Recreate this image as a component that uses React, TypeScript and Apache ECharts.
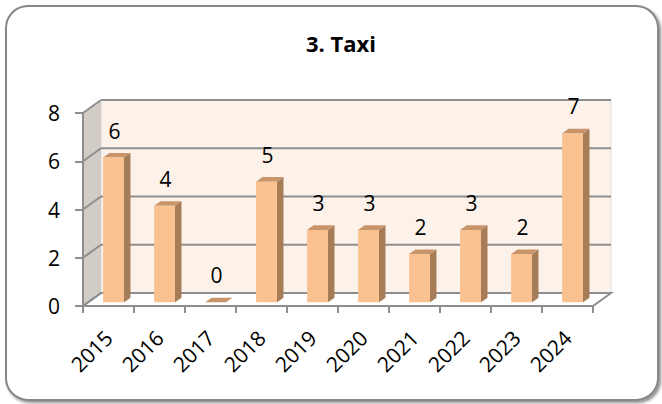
import React, { useEffect, useRef } from 'react';
import * as echarts from 'echarts';

const titleText = '3. Taxi';
const categories = ['2015', '2016', '2017', '2018', '2019', '2020', '2021', '2022', '2023', '2024'];
const values = [6, 4, 0, 5, 3, 3, 2, 3, 2, 7];
const yTicks = [0, 2, 4, 6, 8];

const DX = 18;
const DY = -13;
const FRONT = 0.28;
const DEPTH = 0.36;

export default function App() {
  const ref = useRef<HTMLDivElement>(null);
  useEffect(() => {
    const chart = echarts.init(ref.current!, null, { renderer: 'svg' });
    const font = '"Open Sans", "Noto Sans", sans-serif';
    const grey = '#8e8e8e';

    const walls = {
      type: 'custom',
      z: 1,
      silent: true,
      clip: false,
      data: [[0, 0]],
      encode: { x: 0, y: 1 },
      renderItem: (params: any, api: any) => {
        const cs = params.coordSys;
        const x0 = cs.x, y0 = cs.y, w = cs.width, h = cs.height;
        const yb = y0 + h;
        const children: any[] = [];
        children.push({
          type: 'rect',
          shape: { x: x0 + DX, y: y0 + DY, width: w, height: h },
          style: { fill: '#fdf2ea', stroke: '#dcdcdc', lineWidth: 1 },
        });
        children.push({
          type: 'polygon',
          shape: { points: [[x0, y0], [x0 + DX, y0 + DY], [x0 + DX, yb + DY], [x0, yb]] },
          style: { fill: '#d2ccc7', stroke: 'none' },
        });
        children.push({
          type: 'polygon',
          shape: { points: [[x0, yb], [x0 + DX, yb + DY], [x0 + w + DX, yb + DY], [x0 + w, yb]] },
          style: { fill: '#ffffff', stroke: grey, lineWidth: 2 },
        });
        for (const t of yTicks) {
          const p = api.coord([0, t]);
          const y = p[1];
          children.push({
            type: 'line',
            shape: { x1: x0 + DX, y1: y + DY, x2: x0 + w + DX, y2: y + DY },
            style: { stroke: grey, lineWidth: 2 },
          });
          children.push({
            type: 'line',
            shape: { x1: x0, y1: y, x2: x0 + DX, y2: y + DY },
            style: { stroke: grey, lineWidth: 2 },
          });
        }
        return { type: 'group', children };
      },
    };

    const bars = {
      type: 'custom',
      z: 3,
      clip: false,
      data: values.map((v, i) => [i, v]),
      encode: { x: 0, y: 1 },
      renderItem: (params: any, api: any) => {
        const i = api.value(0);
        const v = api.value(1);
        const base = api.coord([i, 0]);
        const top = api.coord([i, v]);
        const band = api.size([1, 0])[0];
        const bw = band * 0.41;
        const fx = DX * FRONT, fy = DY * FRONT;
        const ddx = DX * DEPTH, ddy = DY * DEPTH;
        const xl = base[0] - bw / 2 + fx;
        const xr = xl + bw;
        const yt = top[1] + fy;
        const yb = base[1] + fy;
        const children: any[] = [];
        children.push({
          type: 'polygon',
          shape: { points: [[xr, yt], [xr + ddx, yt + ddy], [xr + ddx, yb + ddy], [xr, yb]] },
          style: { fill: '#a67d57', stroke: 'none' },
        });
        children.push({
          type: 'polygon',
          shape: { points: [[xl, yt], [xl + ddx, yt + ddy], [xr + ddx, yt + ddy], [xr, yt]] },
          style: { fill: '#c8956b', stroke: 'none' },
        });
        if (yb - yt > 0.5) {
          children.push({
            type: 'rect',
            shape: { x: xl, y: yt, width: bw, height: yb - yt },
            style: { fill: '#fac191', stroke: 'none' },
          });
        }
        children.push({
          type: 'text',
          style: {
            text: String(v),
            x: xl + bw / 2 + 1,
            y: yt - 27,
            align: 'center',
            verticalAlign: 'middle',
            textAlign: 'center',
            textVerticalAlign: 'middle',
            fontSize: 21,
            fontFamily: font,
            fill: '#000',
          },
        });
        return { type: 'group', children };
      },
    };

    chart.setOption({
      animation: false,
      title: {
        text: titleText,
        left: 336,
        top: 27,
        textAlign: 'center',
        textStyle: { fontSize: 22, fontWeight: 'bold', fontFamily: font, color: '#000' },
      },
      graphic: [
        {
          type: 'rect',
          z: -10,
          silent: true,
          shape: { x: 6, y: 6, width: 652, height: 394, r: 22 },
          style: {
            fill: '#ffffff',
            stroke: '#878787',
            lineWidth: 2,
            shadowBlur: 3,
            shadowOffsetX: 2,
            shadowOffsetY: 2,
            shadowColor: 'rgba(0,0,0,0.45)',
          },
        },
      ],
      grid: { left: 83, right: 69, top: 113, bottom: 98 },
      xAxis: {
        type: 'category',
        data: categories,
        z: 5,
        axisLine: { show: true, lineStyle: { color: grey, width: 2 } },
        axisTick: { show: true, length: 7, lineStyle: { color: grey, width: 2 } },
        axisLabel: { rotate: 45, interval: 0, fontSize: 21, fontFamily: font, color: '#000', margin: 28 },
        splitLine: { show: false },
      },
      yAxis: {
        type: 'value',
        min: 0,
        max: 8,
        interval: 2,
        z: 5,
        axisLine: { show: true, lineStyle: { color: grey, width: 2 } },
        axisTick: { show: true, length: 8, lineStyle: { color: grey, width: 2 } },
        axisLabel: { fontSize: 21, fontFamily: font, color: '#000', margin: 23 },
        splitLine: { show: false },
      },
      series: [walls, bars],
    });
    return () => chart.dispose();
  }, []);
  return <div ref={ref} style={{ position: 'absolute', left: 0, top: 0, width: 662, height: 404 }} />;
}
